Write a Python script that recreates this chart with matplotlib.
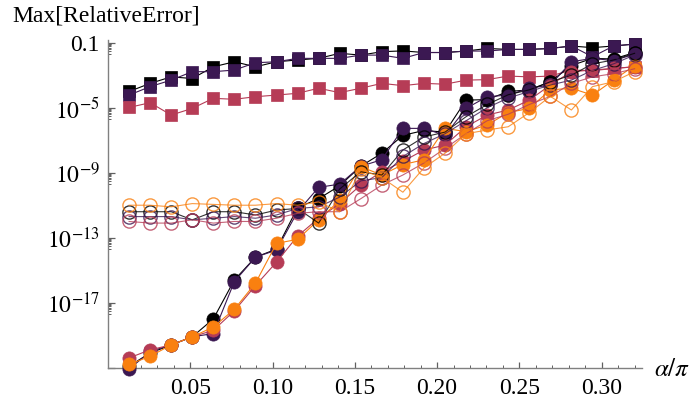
import numpy as np
import matplotlib
matplotlib.use("Agg")
import matplotlib.pyplot as plt
from matplotlib.ticker import FixedLocator, NullFormatter

plt.rcParams['font.family'] = ['Liberation Serif', 'DejaVu Serif']
plt.rcParams['mathtext.fontset'] = 'stix'

# alpha/pi sample points
x = [0.0128, 0.0256, 0.0384, 0.0512, 0.0640, 0.0768, 0.0896, 0.1024, 0.1152,
     0.1280, 0.1408, 0.1536, 0.1664, 0.1792, 0.1920, 0.2048, 0.2176, 0.2304,
     0.2432, 0.2560, 0.2688, 0.2816, 0.2944, 0.3072, 0.3200]

# log10 of Max[RelativeError]
sq_black = [-4.0, -3.5, -3.1, -3.2, -2.48, -2.17, -2.48, -2.17, -2.06, -1.96,
            -1.65, -1.76, -1.55, -1.5, -1.6, -1.6, -1.51, -1.35, -1.41, -1.41,
            -1.35, -1.2, -1.3, -1.2, -1.08]
sq_purple = [-4.22, -3.7, -3.3, -2.78, -2.78, -2.68, -2.23, -2.17, -1.96, -1.96,
             -1.96, -1.76, -1.76, -1.96, -1.6, -1.6, -1.51, -1.51, -1.41, -1.41,
             -1.35, -1.2, -1.86, -1.2, -1.08]
sq_crimson = [-4.98, -4.69, -5.45, -5.04, -4.42, -4.48, -4.32, -4.22, -4.11, -3.8,
              -4.07, -3.8, -3.5, -3.64, -3.5, -3.55, -3.3, -3.27, -3.05, -3.1,
              -3.05, -2.68, -2.72, -2.58, -2.48]

fc_black = [-20.9, -20.1, -19.6, -19.1, -18.0, -15.6, -14.2, -13.7, -11.15, -10.6,
            -9.8, -8.6, -7.8, -6.7, -6.4, -6.5, -4.53, -4.5, -4.0, -3.9,
            -3.4, -2.4, -1.96, -2.0, -1.6]
fc_purple = [-21.1, -20.0, -19.6, -19.1, -18.9, -15.7, -14.2, -13.76, -11.4, -9.9,
             -9.7, -8.6, -8.2, -6.27, -6.27, -6.7, -5.04, -4.32, -4.22, -3.8,
             -3.6, -2.17, -1.96, -2.1, -1.7]
fc_crimson = [-20.4, -19.9, -19.6, -19.1, -18.7, -17.5, -15.95, -14.5, -12.9, -11.8,
              -10.9, -9.76, -8.94, -8.3, -7.6, -7.3, -6.17, -5.45, -5.14, -4.53,
              -3.6, -2.78, -2.68, -2.58, -2.48]
fc_orange = [-20.8, -20.3, -19.6, -19.1, -18.5, -17.4, -15.8, -13.35, -13.1, -11.9,
             -10.7, -8.63, -9.14, -8.5, -8.2, -6.27, -6.47, -6.06, -5.3, -5.04,
             -3.9, -3.8, -4.22, -3.3, -2.4]

oc_black = [-11.4, -11.4, -11.4, -11.9, -11.4, -11.4, -11.6, -11.3, -11.2, -12.1,
            -10.0, -8.94, -9.14, -7.6, -6.8, -6.5, -5.55, -4.8, -4.2, -3.9,
            -3.4, -3.0, -2.3, -2.06, -1.65]
oc_purple = [-11.7, -11.7, -11.7, -11.9, -11.8, -11.7, -11.8, -11.6, -11.2, -11.1,
             -10.5, -9.5, -9.3, -8.0, -7.2, -6.6, -5.8, -5.0, -4.4, -4.0,
             -3.6, -3.3, -2.7, -2.3, -1.75]
oc_crimson = [-12.0, -12.1, -12.1, -11.9, -12.1, -12.0, -12.0, -11.8, -11.5, -11.4,
              -11.4, -10.6, -9.76, -9.14, -8.4, -7.5, -6.6, -5.8, -5.4, -4.8,
              -4.3, -3.5, -3.1, -2.9, -2.6]
oc_orange = [-11.0, -11.0, -11.1, -10.9, -10.95, -11.0, -11.0, -10.9, -11.0, -10.8,
             -11.4, -8.8, -9.3, -10.2, -8.7, -7.8, -6.6, -6.37, -6.17, -5.3,
             -4.3, -5.14, -3.7, -3.4, -2.78]

c_black = '#000000'
c_purple = '#3b1852'
c_crimson = '#b63c56'
c_orange = '#f98010'

fig = plt.figure(figsize=(6.94, 4.05), dpi=100)
ax = fig.add_axes([108/694, 37/405, (642-108)/694, (368-40)/405])

xs = np.array(x)
def pw(v):
    return 10.0 ** np.array(v)

lw = 0.8
for vals, col in [(sq_black, c_black), (sq_purple, c_purple), (sq_crimson, c_crimson)]:
    ax.plot(xs, pw(vals), '-', color=col, lw=lw, marker='s', ms=9,
            mfc=col, mec=col, mew=0.5, clip_on=False, zorder=3)

for vals, col in [(fc_black, c_black), (fc_purple, c_purple),
                  (fc_crimson, c_crimson), (fc_orange, c_orange)]:
    ax.plot(xs, pw(vals), '-', color=col, lw=lw, marker='o', ms=9.5,
            mfc=col, mec=col, mew=0.5, clip_on=False, zorder=3)

for vals, col in [(oc_black, c_black), (oc_purple, c_purple),
                  (oc_crimson, c_crimson), (oc_orange, c_orange)]:
    ax.plot(xs, pw(vals), '-', color=col, lw=lw, marker='o', ms=9.5,
            mfc='none', mec=col, mew=1.0, alpha=0.8, clip_on=False, zorder=4)

ax.set_yscale('log')
ax.set_xlim(0, 0.3245)
ax.set_ylim(10 ** -21.02, 10 ** -0.83)

for s in ['top', 'right']:
    ax.spines[s].set_visible(False)
for s in ['left', 'bottom']:
    ax.spines[s].set_color('#808080')
    ax.spines[s].set_linewidth(1.0)

xmaj = [0.05, 0.10, 0.15, 0.20, 0.25, 0.30]
xlabels = ['0.05', '0.10', '0.15', '0.20', '0.25', '0.30']
ax.xaxis.set_major_locator(FixedLocator(xmaj))
ax.set_xticklabels(xlabels)
ax.xaxis.set_minor_locator(FixedLocator([i / 100 for i in range(1, 33)]))
ax.xaxis.set_minor_formatter(NullFormatter())

ymaj = [1e-1, 1e-5, 1e-9, 1e-13, 1e-17, 1e-21]
ylabels = ['0.1', r'$10^{-5}$', r'$10^{-9}$', r'$10^{-13}$', r'$10^{-17}$', '']
ax.yaxis.set_major_locator(FixedLocator(ymaj))
ax.set_yticklabels(ylabels)
yminor = []
for e in [-1, -5, -9, -13, -17]:
    for k in range(2, 10):
        yminor.append(k * 10.0 ** (e - 1))
ax.yaxis.set_minor_locator(FixedLocator(yminor))
ax.yaxis.set_minor_formatter(NullFormatter())

ax.tick_params(axis='both', which='major', direction='in', labelsize=17,
               color='#606060', width=0.9)
ax.tick_params(axis='x', which='major', length=4, pad=7)
ax.tick_params(axis='y', which='major', length=5, pad=6)
ax.tick_params(axis='both', which='minor', direction='in', length=2.2,
               color='#606060', width=0.7)

fig.text(12/694, 1 - 16/405, 'Max[RelativeError]', fontsize=17,
         ha='left', va='center')
fig.text(654/694, 1 - 370/405, r'$\alpha/\pi$', fontsize=18,
         ha='left', va='center')

fig.savefig('out.png', dpi=100)
